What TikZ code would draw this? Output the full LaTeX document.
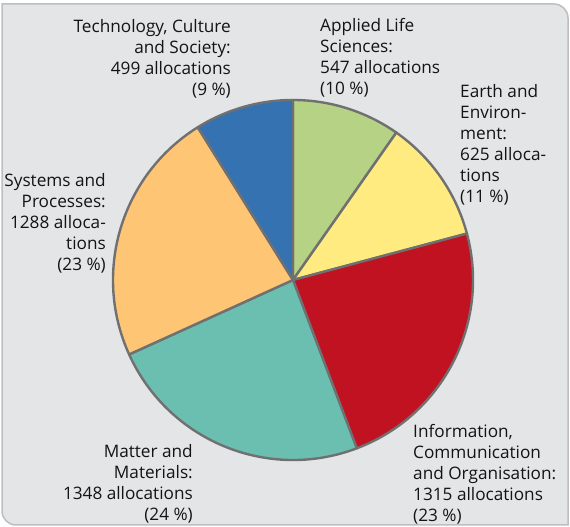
\documentclass[tikz,border=0pt]{standalone}
\usepackage{fontspec}
\setmainfont{Open Sans}
\usepackage{xcolor}
\usetikzlibrary{positioning,calc}
\definecolor{framegray}{RGB}{190,190,192}
\definecolor{panelgray}{RGB}{228,229,231}
\definecolor{rimgray}{RGB}{112,112,112}
\definecolor{lifegreen}{RGB}{182,211,133}
\definecolor{earthyellow}{RGB}{255,235,128}
\definecolor{infored}{RGB}{192,18,32}
\definecolor{matterteal}{RGB}{107,191,176}
\definecolor{sysorange}{RGB}{254,197,116}
\definecolor{techblue}{RGB}{52,114,178}
\definecolor{labeltext}{RGB}{20,20,20}
\tikzset{
  wedge/.style={draw=rimgray, line width=2.4pt, line join=round},
  pielabel/.style={inner sep=0pt, text=labeltext, font=\fontsize{17.2}{21}\selectfont}
}

\begin{document}
\begin{tikzpicture}[x=1pt, y=1pt]
				\useasboundingbox (0,0) rectangle (570,527);
				\draw[framegray, line width=1.5pt, fill=panelgray] (2,523) -- (554,523) arc (90:0:14) -- (568,2) -- (16,2) arc (270:180:14) -- cycle;
				\coordinate (c) at (293,247);
				\filldraw[wedge, fill=lifegreen] (c) -- ++(90:180) arc (90:54.97:180) -- cycle;
				\filldraw[wedge, fill=earthyellow] (c) -- ++(54.97:180) arc (54.97:14.95:180) -- cycle;
				\filldraw[wedge, fill=infored] (c) -- ++(14.95:180) arc (14.95:-69.25:180) -- cycle;
				\filldraw[wedge, fill=matterteal] (c) -- ++(-69.25:180) arc (-69.25:-155.57:180) -- cycle;
				\filldraw[wedge, fill=sysorange] (c) -- ++(-155.57:180) arc (-155.57:-238.05:180) -- cycle;
				\filldraw[wedge, fill=techblue] (c) -- ++(-238.05:180) arc (-238.05:-270:180) -- cycle;
				\node (tech) [pielabel, anchor=north east, align=right] at (231,508) {Technology, Culture\\and Society:\\499 allocations\\(9 \%)};
				\node (life) [pielabel, anchor=north west, align=left] at (320,509) {Applied Life\\Sciences:\\547 allocations\\(10 \%)};
				\node (earth) [pielabel, anchor=north west, align=left] at (460,443) {Earth and\\Environ-\\ment:\\625 alloca-\\tions\\(11 \%)};
				\node (info) [pielabel, anchor=north west, align=left] at (413,103) {Information,\\Communication\\and Organisation:\\1315 allocations\\(23 \%)};
				\node (matter) [pielabel, anchor=north east, align=right] at (193,83) {Matter and\\Materials:\\1348 allocations\\(24 \%)};
				\node (sys) [pielabel, anchor=north east, align=right] at (106,354) {Systems and\\Processes:\\1288 alloca-\\tions\\(23 \%)};
			\end{tikzpicture}
\end{document}
